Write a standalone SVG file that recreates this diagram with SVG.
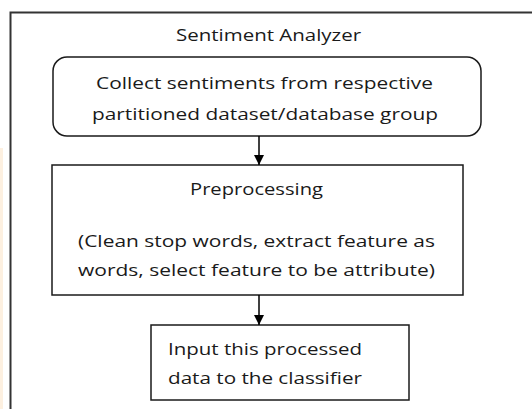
<svg xmlns="http://www.w3.org/2000/svg" width="532" height="409" viewBox="0 0 532 409">
<style>
.box{fill:#fff;stroke:#1a1a1a;stroke-width:1.5}
.t{font-family:"Open Sans","Liberation Sans",sans-serif;font-size:16.5px;fill:#1a1a1a}
.c{stroke:#000;stroke-width:1.5;fill:none}
</style>
<defs>
<marker id="ah" viewBox="0 0 10 10" refX="10" refY="5" markerWidth="10" markerHeight="10" markerUnits="userSpaceOnUse" orient="auto">
<path d="M0,0 L10,5 L0,10 Z" fill="#000"/>
</marker>
</defs>
<rect x="0" y="0" width="532" height="409" fill="#fff"/>
<rect x="0" y="148" width="3" height="261" fill="#fdf0e0"/>
<g id="container">
<path d="M10.5,409 L10.5,12.5 L532,12.5" fill="none" stroke="#333" stroke-width="2"/>
<text class="t" x="176" y="41" textLength="185" lengthAdjust="spacingAndGlyphs">Sentiment Analyzer</text>
</g>
<g id="collect">
<rect class="box" x="53" y="57" width="428" height="79" rx="14" ry="14"/>
<text class="t" x="96" y="89" textLength="337" lengthAdjust="spacingAndGlyphs">Collect sentiments from respective</text>
<text class="t" x="92" y="120" textLength="346" lengthAdjust="spacingAndGlyphs">partitioned dataset/database group</text>
</g>
<g id="preprocessing">
<rect class="box" x="52" y="165" width="411" height="130"/>
<text class="t" x="190" y="195" textLength="133" lengthAdjust="spacingAndGlyphs">Preprocessing</text>
<text class="t" x="78" y="247" textLength="357" lengthAdjust="spacingAndGlyphs">(Clean stop words, extract feature as</text>
<text class="t" x="78" y="276" textLength="357" lengthAdjust="spacingAndGlyphs">words, select feature to be attribute)</text>
</g>
<g id="input">
<rect class="box" x="151" y="325" width="258" height="75"/>
<text class="t" x="168" y="355" textLength="194" lengthAdjust="spacingAndGlyphs">Input this processed</text>
<text class="t" x="168" y="384" textLength="194" lengthAdjust="spacingAndGlyphs">data to the classifier</text>
</g>
<g id="connectors">
<line class="c" x1="259" y1="136" x2="259" y2="165" marker-end="url(#ah)"/>
<line class="c" x1="259" y1="295" x2="259" y2="325" marker-end="url(#ah)"/>
</g>
</svg>
